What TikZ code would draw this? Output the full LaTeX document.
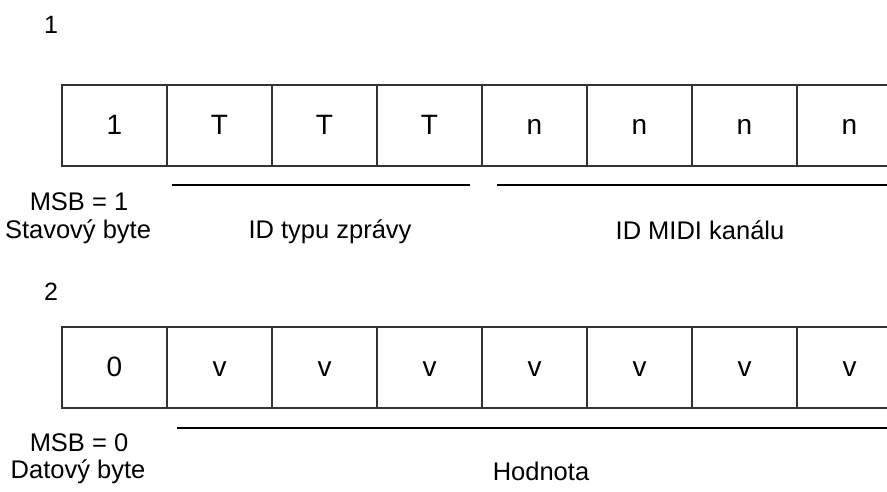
\documentclass[tikz,border=0pt]{standalone}
\usepackage{fontspec}
\setmainfont{Liberation Sans}
\begin{document}
\begin{tikzpicture}[x=1pt,y=-1pt,
  cell/.style={draw=black!80,line width=1.2pt,minimum width=105pt,minimum height=81pt,inner sep=0pt,outer sep=0pt,anchor=north west},
  bit/.style={anchor=base,inner sep=0pt,font=\fontsize{28}{32}\selectfont},
  lbl/.style={anchor=base,inner sep=0pt,font=\fontsize{25.5}{30}\selectfont},
  num/.style={anchor=base,inner sep=0pt,font=\fontsize{25}{30}\selectfont},
  bar/.style={line width=2.6pt}]
\useasboundingbox (0,0) rectangle (887,491);
\clip (0,0) rectangle (887,491);
% row 1
\node[num] (n1) at (51,33) {1};
\foreach \i/\t in {0/1,1/T,2/T,3/T,4/n,5/n,6/n,7/n}{
  \node[cell] (a\i) at (62+105*\i,85) {};
  \node[bit] (ta\i) at (114.5+105*\i,134) {\t};
}
\coordinate (l1a) at (172,185);
\coordinate (l1b) at (470,185);
\coordinate (l2a) at (497,185);
\coordinate (l2b) at (890,185);
\draw[bar] (l1a) -- (l1b);
\draw[bar] (l2a) -- (l2b);
\node[lbl] (msb1) at (79,210) {MSB = 1};
\node[lbl] (stav) at (78,238) {Stavový byte};
\node[lbl] (idt) at (330,238) {ID typu zprávy};
\node[lbl] (idm) at (700,239) {ID MIDI kanálu};
% row 2
\node[num] (n2) at (51,300) {2};
\foreach \i/\t in {0/0,1/v,2/v,3/v,4/v,5/v,6/v,7/v}{
  \node[cell] (b\i) at (62+105*\i,327) {};
  \node[bit] (tb\i) at (114.5+105*\i,376) {\t};
}
\coordinate (l3a) at (177,428);
\coordinate (l3b) at (890,428);
\draw[bar] (l3a) -- (l3b);
\node[lbl] (msb0) at (79,451) {MSB = 0};
\node[lbl] (dat) at (78,478) {Datový byte};
\node[lbl] (hod) at (541,480) {Hodnota};
\end{tikzpicture}
\end{document}
